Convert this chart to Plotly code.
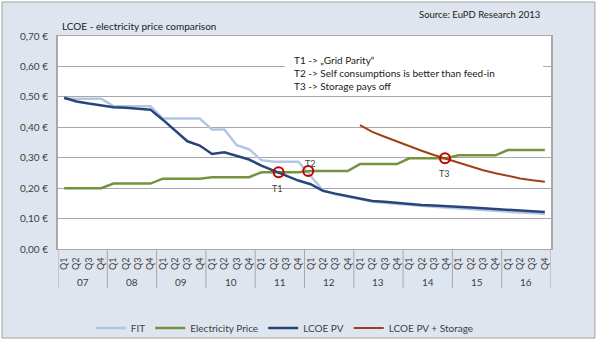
import plotly.graph_objects as go

years = ["07", "08", "09", "10", "11", "12", "13", "14", "15", "16"]
quarters = ["Q1", "Q2", "Q3", "Q4"]
quarter_labels = [q for y in years for q in quarters]
x_idx = list(range(len(quarter_labels)))

fit = [0.494, 0.494, 0.494, 0.494, 0.470, 0.469, 0.469, 0.469,
       0.429, 0.429, 0.429, 0.429, 0.393, 0.393, 0.341, 0.328,
       0.292, 0.287, 0.287, 0.287, 0.240, 0.193, 0.180, 0.172,
       0.163, 0.156, 0.152, 0.148, 0.145, 0.142, 0.139, 0.136,
       0.134, 0.131, 0.129, 0.126, 0.123, 0.120, 0.118, 0.115]
elec = [0.200, 0.200, 0.200, 0.200, 0.215, 0.215, 0.215, 0.215,
        0.231, 0.231, 0.231, 0.231, 0.236, 0.236, 0.236, 0.236,
        0.252, 0.252, 0.252, 0.252, 0.256, 0.256, 0.256, 0.256,
        0.279, 0.279, 0.279, 0.279, 0.298, 0.298, 0.298, 0.298,
        0.308, 0.308, 0.308, 0.308, 0.325, 0.325, 0.325, 0.325]
pv = [0.497, 0.485, 0.478, 0.472, 0.466, 0.464, 0.462, 0.458,
      0.425, 0.390, 0.354, 0.340, 0.312, 0.318, 0.307, 0.294,
      0.274, 0.258, 0.240, 0.225, 0.213, 0.191, 0.182, 0.174,
      0.165, 0.158, 0.155, 0.151, 0.148, 0.145, 0.143, 0.140,
      0.138, 0.136, 0.134, 0.131, 0.129, 0.127, 0.124, 0.122]
storage_start = 24
storage = [0.407, 0.385, 0.369, 0.353, 0.338, 0.323, 0.309, 0.296,
           0.283, 0.270, 0.259, 0.249, 0.240, 0.232, 0.226, 0.221]

# milestone circles (position along quarter axis, value)
mark_names = ["T1", "T2", "T3"]
mark_x = [17.4, 19.8, 30.9]
mark_y = [0.252, 0.256, 0.298]

y_ticks = [0.0, 0.1, 0.2, 0.3, 0.4, 0.5, 0.6, 0.7]
y_ticktext = ["0,00 €", "0,10 €", "0,20 €", "0,30 €", "0,40 €", "0,50 €", "0,60 €", "0,70 €"]

FONT = "Lato"
TXT = "#404040"
GRID = "#a8a8a8"

fig = go.Figure()
fig.add_trace(go.Scatter(x=x_idx, y=fit, mode="lines", name="FIT",
                         line=dict(color="#b3c6e3", width=2.5)))
fig.add_trace(go.Scatter(x=x_idx, y=elec, mode="lines", name="Electricity Price",
                         line=dict(color="#76923c", width=2.5)))
fig.add_trace(go.Scatter(x=x_idx, y=pv, mode="lines", name="LCOE PV",
                         line=dict(color="#27457a", width=2.5)))
fig.add_trace(go.Scatter(x=x_idx[storage_start:], y=storage, mode="lines",
                         name="LCOE PV + Storage",
                         line=dict(color="#a0401a", width=2)))
fig.add_trace(go.Scatter(x=mark_x, y=mark_y, mode="markers", showlegend=False,
                         marker=dict(symbol="circle-open", size=10,
                                     line=dict(color="#c00000", width=2),
                                     color="#c00000")))

# milestone labels
label_shift = [(-1, -16), (2, 8), (-1, -15)]
for n, xv, yv, (dx, dy) in zip(mark_names, mark_x, mark_y, label_shift):
    fig.add_annotation(x=xv, y=yv, text=n, showarrow=False, xshift=dx, yshift=dy,
                       font=dict(family=FONT, size=9, color=TXT))

shapes = []
# outer panel
shapes.append(dict(type="rect", xref="paper", yref="paper",
                   x0=-0.1136, x1=1.089, y0=-0.418, y1=1.1596,
                   fillcolor="#dee5ef", line=dict(color="#a0a0a0", width=1),
                   layer="below"))
# plot area white
shapes.append(dict(type="rect", xref="paper", yref="paper",
                   x0=0, x1=1, y0=0, y1=1, fillcolor="white",
                   line=dict(width=0), layer="below"))
# text box
shapes.append(dict(type="rect", xref="paper", yref="paper",
                   x0=0.46, x1=0.984, y0=0.725, y1=0.997, fillcolor="white",
                   line=dict(width=0), layer="above"))
# year dividers
for k in range(len(years) + 1):
    xv = k * len(quarters) - 0.5
    shapes.append(dict(type="line", xref="x", yref="paper", x0=xv, x1=xv,
                       y0=0, y1=-0.183, line=dict(color=GRID, width=1)))
fig.update_layout(shapes=shapes)

# year labels
for k, yr in enumerate(years):
    fig.add_annotation(x=k * len(quarters) + 1.5, y=-0.155, xref="x", yref="paper",
                       text=yr, showarrow=False, yanchor="middle",
                       font=dict(family=FONT, size=10, color=TXT))

fig.add_annotation(x=0.475, y=0.826, xref="paper", yref="paper", xanchor="left",
                   yanchor="middle", align="left", showarrow=False,
                   text="T1 -> „Grid Parity“<br>T2 -> Self consumptions is better than feed-in<br>T3 -> Storage pays off",
                   font=dict(family=FONT, size=10, color="#202020"))
fig.add_annotation(x=0.004, y=1.047, xref="paper", yref="paper", xanchor="left",
                   yanchor="middle", showarrow=False,
                   text="LCOE - electricity price comparison",
                   font=dict(family=FONT, size=10, color="#202020"))
fig.add_annotation(x=0.982, y=1.099, xref="paper", yref="paper", xanchor="right",
                   yanchor="middle", showarrow=False,
                   text="Source: EuPD Research 2013",
                   font=dict(family=FONT, size=9.5, color="#202020"))

fig.update_layout(
    width=602, height=343,
    margin=dict(l=58, r=51, t=36, b=94, autoexpand=False),
    paper_bgcolor="white", plot_bgcolor="white",
    font=dict(family=FONT, size=10, color=TXT),
    legend=dict(orientation="h", x=0.46, xanchor="center", y=-0.371, yanchor="middle",
                bgcolor="rgba(0,0,0,0)", itemwidth=30,
                font=dict(family=FONT, size=10, color=TXT)),
    xaxis=dict(range=[-0.5, len(quarter_labels) - 0.5], tickmode="array",
               tickvals=x_idx, ticktext=quarter_labels, tickangle=-90,
               showgrid=False, zeroline=False, ticks="", ticklabelstandoff=4,
               automargin=False,
               showline=True, linecolor=GRID, linewidth=1, mirror=True,
               tickfont=dict(family=FONT, size=9, color=TXT)),
    yaxis=dict(range=[0, 0.7], tickmode="array", tickvals=y_ticks, ticktext=y_ticktext,
               showgrid=True, gridcolor=GRID, gridwidth=1, zeroline=False,
               automargin=False,
               showline=True, linecolor=GRID, linewidth=2, mirror=True, ticks="",
               ticklabelstandoff=6,
               tickfont=dict(family=FONT, size=10, color=TXT)),
)

fig.write_html("out.html")
